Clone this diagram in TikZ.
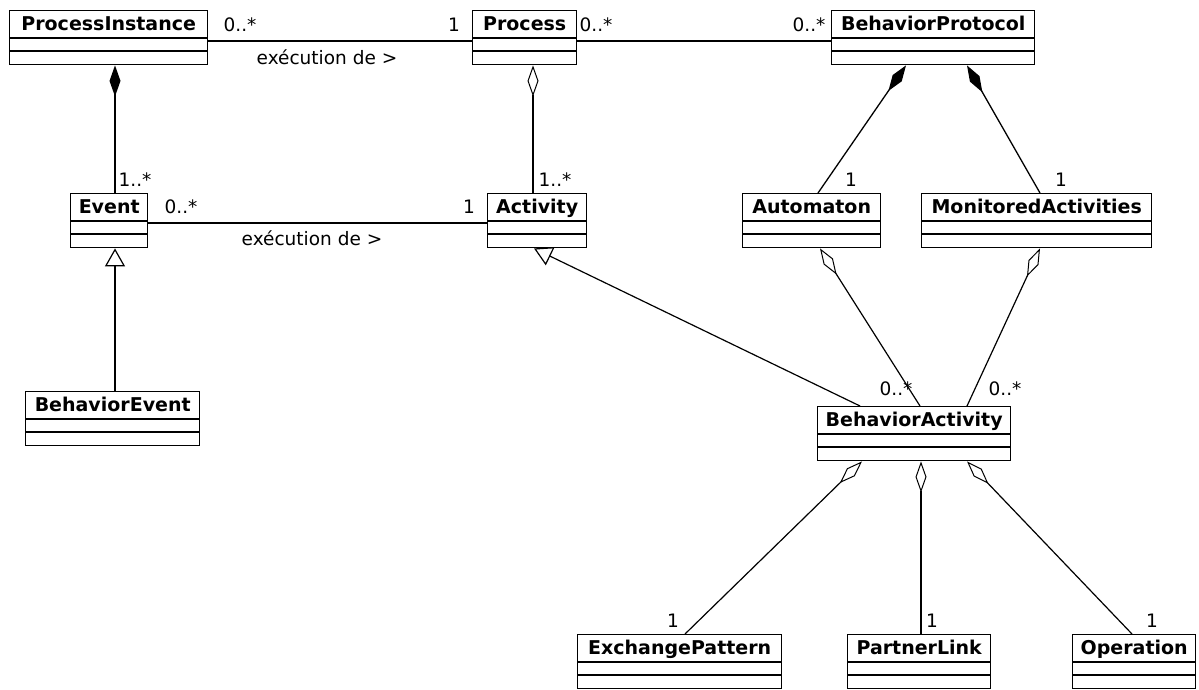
\documentclass[tikz,border=0pt]{standalone}
\usepackage{fontspec}
\setmainfont{DejaVu Sans}
\usetikzlibrary{arrows.meta}

\tikzset{
  classbox/.style={draw, line width=1.4pt, fill=white, inner sep=0pt},
  classname/.style={font=\fontsize{19}{22}\selectfont\bfseries, inner sep=0pt},
  boxline/.style={line width=1.4pt},
  mult/.style={font=\fontsize{18.5}{22}\selectfont, inner sep=0pt},
  assoc/.style={draw, line width=1.3pt},
  comp/.style={draw, line width=1.3pt, arrows={Diamond[length=31pt,width=11pt]-}},
  agg/.style={draw, line width=1.2pt, arrows={Diamond[open,length=31pt,width=11pt,line width=1pt]-}},
  gen/.style={draw, line width=1.2pt, arrows={-Triangle[open,length=18pt,width=20pt,line width=1.2pt]}},
}

% class box: id, left x, right x, top y, title
\newcommand\umlclass[5]{%
  \node[classbox, minimum width={(#3-#2)*1pt}, minimum height=54pt, anchor=north west] (#1) at (#2,#4) {};
  \node[classname, anchor=base] (#1-title) at ([yshift=-20.5pt]#1.north) {#5};
  \draw[boxline] ([yshift=-28pt]#1.north west) -- ([yshift=-28pt]#1.north east);
  \draw[boxline] ([yshift=-41pt]#1.north west) -- ([yshift=-41pt]#1.north east);
}

\begin{document}
\begin{tikzpicture}[x=1pt, y=-1pt]
\fill[white] (0,0) rectangle (1199,689);
\useasboundingbox (0,0) rectangle (1199,689);

% classes
\umlclass{pi}{9}{207}{10}{ProcessInstance}
\umlclass{proc}{472}{576}{10}{Process}
\umlclass{bp}{831}{1034}{10}{BehaviorProtocol}
\umlclass{evt}{70}{147}{193}{Event}
\umlclass{act}{487}{586}{193}{Activity}
\umlclass{aut}{742}{880}{193}{Automaton}
\umlclass{mon}{921}{1151}{193}{MonitoredActivities}
\umlclass{bevt}{25}{199}{391}{BehaviorEvent}
\umlclass{bact}{817}{1010}{406}{BehaviorActivity}
\umlclass{xp}{577}{781}{634}{ExchangePattern}
\umlclass{pl}{847}{990}{634}{PartnerLink}
\umlclass{op}{1072}{1195}{634}{Operation}

% associations
\draw[assoc] ([yshift=-31pt]pi.north east) -- ([yshift=-31pt]proc.north west);
\draw[assoc] ([yshift=-31pt]proc.north east) -- ([yshift=-31pt]bp.north west);
\draw[assoc] ([yshift=-30pt]evt.north east) -- ([yshift=-30pt]act.north west);

% compositions
\draw[comp] ([xshift=106pt]pi.south west) -- ([xshift=45pt]evt.north west);
\draw[comp] ([xshift=75pt]bp.south west) -- ([xshift=76pt]aut.north west);
\draw[comp] ([xshift=136pt]bp.south west) -- ([xshift=119pt]mon.north west);

% aggregations
\draw[agg] ([xshift=61pt]proc.south west) -- ([xshift=46pt]act.north west);
\draw[agg] ([xshift=78pt]aut.south west) -- ([xshift=103pt]bact.north west);
\draw[agg] ([xshift=119pt]mon.south west) -- ([xshift=150pt]bact.north west);
\draw[agg] ([xshift=45pt]bact.south west) -- ([xshift=108pt]xp.north west);
\draw[agg] ([xshift=104pt]bact.south west) -- ([xshift=74pt]pl.north west);
\draw[agg] ([xshift=150pt]bact.south west) -- ([xshift=60pt]op.north west);

% generalizations
\draw[gen] ([xshift=90pt]bevt.north west) -- ([xshift=45pt]evt.south west);
\draw[gen] ([xshift=43pt]bact.north west) -- ([xshift=47pt]act.south west);

% multiplicities and association names
\node[mult] (m-pi) at (240,25) {0..*};
\node[mult] (m-proc-l) at (454,25) {1};
\node[mult] (n-exec1) at (327,57) {exécution de >};
\node[mult] (m-proc-r) at (596,25) {0..*};
\node[mult] (m-bp) at (809,25) {0..*};
\node[mult] (m-evt-up) at (135,180) {1..*};
\node[mult] (m-act-up) at (555,180) {1..*};
\node[mult] (m-evt) at (181,207) {0..*};
\node[mult] (m-act) at (469,207) {1};
\node[mult] (n-exec2) at (312,238) {exécution de >};
\node[mult] (m-aut) at (851,180) {1};
\node[mult] (m-mon) at (1061,180) {1};
\node[mult] (m-bact-l) at (896,389) {0..*};
\node[mult] (m-bact-r) at (1005,389) {0..*};
\node[mult] (m-xp) at (673,621) {1};
\node[mult] (m-pl) at (932,621) {1};
\node[mult] (m-op) at (1152,621) {1};
\end{tikzpicture}
\end{document}
